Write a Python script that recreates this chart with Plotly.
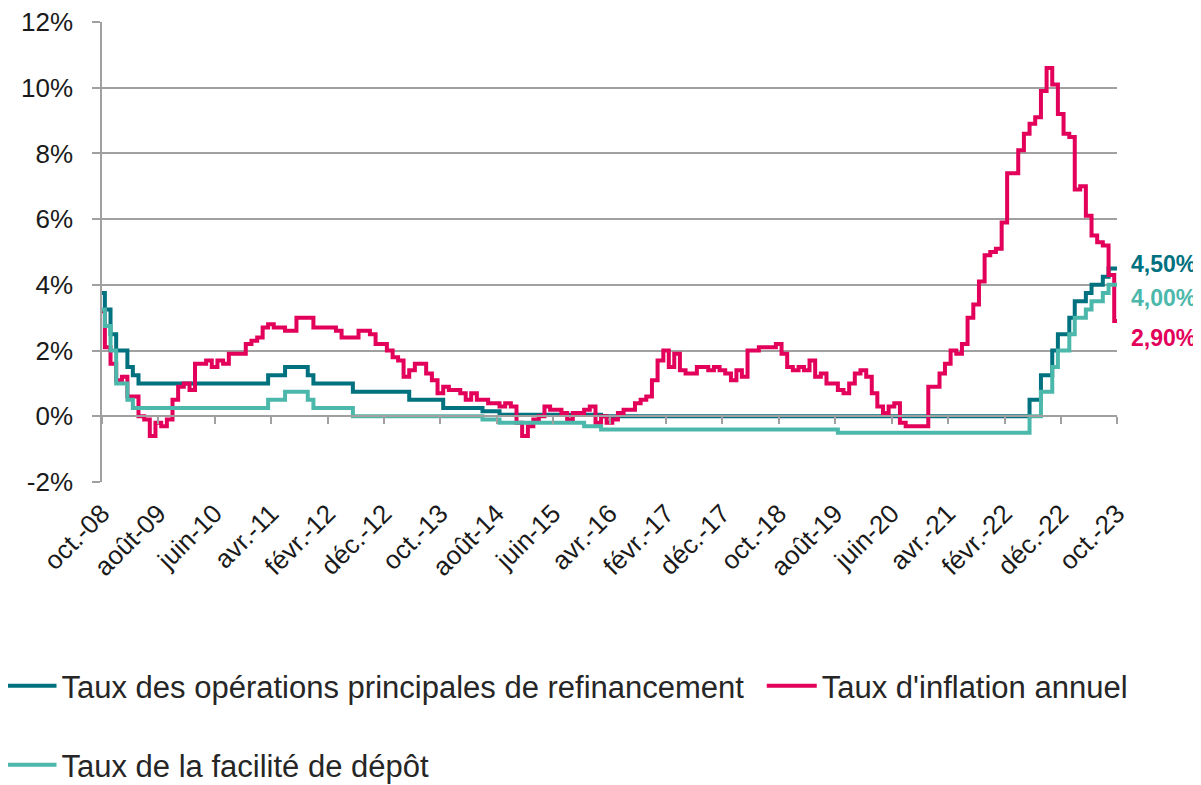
import pandas as pd
import plotly.graph_objects as go

# monthly, oct. 2008 -> oct. 2023 (end-of-month policy rates, annual HICP inflation)
months = pd.date_range("2008-10-01", "2023-10-01", freq="MS")

taux_refi = (
    [3.75, 3.25, 2.50]
    + [2.00, 2.00, 1.50, 1.25, 1.00, 1.00, 1.00, 1.00, 1.00, 1.00, 1.00, 1.00]
    + [1.00, 1.00, 1.00, 1.00, 1.00, 1.00, 1.00, 1.00, 1.00, 1.00, 1.00, 1.00]
    + [1.00, 1.00, 1.00, 1.25, 1.25, 1.25, 1.50, 1.50, 1.50, 1.50, 1.25, 1.00]
    + [1.00, 1.00, 1.00, 1.00, 1.00, 1.00, 0.75, 0.75, 0.75, 0.75, 0.75, 0.75]
    + [0.75, 0.75, 0.75, 0.75, 0.50, 0.50, 0.50, 0.50, 0.50, 0.50, 0.25, 0.25]
    + [0.25, 0.25, 0.25, 0.25, 0.25, 0.15, 0.15, 0.15, 0.05, 0.05, 0.05, 0.05]
    + [0.05, 0.05, 0.05, 0.05, 0.05, 0.05, 0.05, 0.05, 0.05, 0.05, 0.05, 0.05]
    + [0.05, 0.05, 0.00, 0.00, 0.00, 0.00, 0.00, 0.00, 0.00, 0.00, 0.00, 0.00]
    + [0.00, 0.00, 0.00, 0.00, 0.00, 0.00, 0.00, 0.00, 0.00, 0.00, 0.00, 0.00]
    + [0.00, 0.00, 0.00, 0.00, 0.00, 0.00, 0.00, 0.00, 0.00, 0.00, 0.00, 0.00]
    + [0.00, 0.00, 0.00, 0.00, 0.00, 0.00, 0.00, 0.00, 0.00, 0.00, 0.00, 0.00]
    + [0.00, 0.00, 0.00, 0.00, 0.00, 0.00, 0.00, 0.00, 0.00, 0.00, 0.00, 0.00]
    + [0.00, 0.00, 0.00, 0.00, 0.00, 0.00, 0.00, 0.00, 0.00, 0.00, 0.00, 0.00]
    + [0.00, 0.00, 0.00, 0.00, 0.00, 0.00, 0.50, 0.50, 1.25, 1.25, 2.00, 2.50]
    + [2.50, 3.00, 3.50, 3.50, 3.75, 4.00, 4.00, 4.25, 4.50, 4.50]
)

taux_depot = (
    [3.25, 2.75, 2.00]
    + [1.00, 1.00, 0.50, 0.25, 0.25, 0.25, 0.25, 0.25, 0.25, 0.25, 0.25, 0.25]
    + [0.25, 0.25, 0.25, 0.25, 0.25, 0.25, 0.25, 0.25, 0.25, 0.25, 0.25, 0.25]
    + [0.25, 0.25, 0.25, 0.50, 0.50, 0.50, 0.75, 0.75, 0.75, 0.75, 0.50, 0.25]
    + [0.25, 0.25, 0.25, 0.25, 0.25, 0.25, 0.00, 0.00, 0.00, 0.00, 0.00, 0.00]
    + [0.00, 0.00, 0.00, 0.00, 0.00, 0.00, 0.00, 0.00, 0.00, 0.00, 0.00, 0.00]
    + [0.00, 0.00, 0.00, 0.00, 0.00, -0.10, -0.10, -0.10, -0.20, -0.20, -0.20, -0.20]
    + [-0.20, -0.20, -0.20, -0.20, -0.20, -0.20, -0.20, -0.20, -0.20, -0.20, -0.20, -0.30]
    + [-0.30, -0.30, -0.40, -0.40, -0.40, -0.40, -0.40, -0.40, -0.40, -0.40, -0.40, -0.40]
    + [-0.40, -0.40, -0.40, -0.40, -0.40, -0.40, -0.40, -0.40, -0.40, -0.40, -0.40, -0.40]
    + [-0.40, -0.40, -0.40, -0.40, -0.40, -0.40, -0.40, -0.40, -0.40, -0.40, -0.40, -0.40]
    + [-0.40, -0.40, -0.40, -0.40, -0.40, -0.40, -0.40, -0.40, -0.50, -0.50, -0.50, -0.50]
    + [-0.50, -0.50, -0.50, -0.50, -0.50, -0.50, -0.50, -0.50, -0.50, -0.50, -0.50, -0.50]
    + [-0.50, -0.50, -0.50, -0.50, -0.50, -0.50, -0.50, -0.50, -0.50, -0.50, -0.50, -0.50]
    + [-0.50, -0.50, -0.50, -0.50, -0.50, -0.50, 0.00, 0.00, 0.75, 0.75, 1.50, 2.00]
    + [2.00, 2.50, 3.00, 3.00, 3.25, 3.50, 3.50, 3.75, 4.00, 4.00]
)

inflation = (
    [3.2, 2.1, 1.6]
    + [1.1, 1.2, 0.6, 0.6, 0.0, -0.1, -0.6, -0.2, -0.3, -0.1, 0.5, 0.9]
    + [1.0, 0.8, 1.6, 1.6, 1.7, 1.5, 1.7, 1.6, 1.9, 1.9, 1.9, 2.2]
    + [2.3, 2.4, 2.7, 2.8, 2.7, 2.7, 2.6, 2.6, 3.0, 3.0, 3.0, 2.7]
    + [2.7, 2.7, 2.7, 2.6, 2.4, 2.4, 2.4, 2.6, 2.6, 2.5, 2.2, 2.2]
    + [2.0, 1.8, 1.7, 1.2, 1.4, 1.6, 1.6, 1.3, 1.1, 0.7, 0.9, 0.8]
    + [0.8, 0.7, 0.5, 0.7, 0.5, 0.5, 0.4, 0.4, 0.3, 0.4, 0.3, -0.2]
    + [-0.6, -0.3, -0.1, 0.0, 0.3, 0.2, 0.2, 0.1, -0.1, 0.1, 0.1, 0.2]
    + [0.3, -0.2, 0.0, -0.2, -0.1, 0.1, 0.2, 0.2, 0.4, 0.5, 0.6, 1.1]
    + [1.7, 2.0, 1.5, 1.9, 1.4, 1.3, 1.3, 1.5, 1.5, 1.4, 1.5, 1.4]
    + [1.3, 1.1, 1.4, 1.2, 2.0, 2.0, 2.1, 2.1, 2.1, 2.2, 1.9, 1.5]
    + [1.4, 1.5, 1.4, 1.7, 1.2, 1.3, 1.0, 1.0, 0.8, 0.7, 1.0, 1.3]
    + [1.4, 1.2, 0.7, 0.3, 0.1, 0.3, 0.4, -0.2, -0.3, -0.3, -0.3, -0.3]
    + [0.9, 0.9, 1.3, 1.6, 2.0, 1.9, 2.2, 3.0, 3.4, 4.1, 4.9, 5.0]
    + [5.1, 5.9, 7.4, 7.4, 8.1, 8.6, 8.9, 9.1, 9.9, 10.6, 10.1, 9.2]
    + [8.6, 8.5, 6.9, 7.0, 6.1, 5.5, 5.3, 5.2, 4.3, 2.9]
)

x_tick_text = ["oct.-08", "août-09", "juin-10", "avr.-11", "févr.-12", "déc.-12",
               "oct.-13", "août-14", "juin-15", "avr.-16", "févr.-17", "déc.-17",
               "oct.-18", "août-19", "juin-20", "avr.-21", "févr.-22", "déc.-22",
               "oct.-23"]
x_tick_vals = months[::10]
y_tick_vals = [-2, 0, 2, 4, 6, 8, 10, 12]
y_tick_text = ["-2%", "0%", "2%", "4%", "6%", "8%", "10%", "12%"]

C_REFI = "#00717F"
C_DEPOT = "#4BB8AB"
C_INFL = "#E2005A"
FONT = "Arial, Liberation Sans, sans-serif"

fig = go.Figure()
fig.add_trace(go.Scatter(
    x=months, y=taux_depot, mode="lines", name="Taux de la facilité de dépôt",
    line=dict(color=C_DEPOT, width=4, shape="hvh"), xaxis="x2", legend="legend3"
))
fig.add_trace(go.Scatter(
    x=months, y=taux_refi, mode="lines", name="Taux des opérations principales de refinancement",
    line=dict(color=C_REFI, width=4, shape="hvh"), legend="legend"
))
fig.add_trace(go.Scatter(
    x=months, y=inflation, mode="lines", name="Taux d'inflation annuel",
    line=dict(color=C_INFL, width=4, shape="hvh"), legend="legend2"
))

# end-of-series value labels
for vals, col, dy in [(taux_refi, C_REFI, 4), (taux_depot, C_DEPOT, -13), (inflation, C_INFL, -17)]:
    fig.add_annotation(
        x=months[-1], y=vals[-1], text=f"{vals[-1]:.2f}".replace(".", ",") + "%",
        showarrow=False, xanchor="left", yanchor="middle", xshift=12, yshift=dy,
        font=dict(family=FONT, size=23, color=col, weight="bold")
    )

legend_style = dict(orientation="h", xanchor="left", yanchor="middle",
                    font=dict(size=31, color="#262626"), itemwidth=50)

# page body has an 8px margin: the figure is sized so the plot lands where the reference has it
rng = [months[0], months[-1]]
fig.update_layout(
    width=1193, height=777,
    margin=dict(l=94, r=84, t=14, b=303, autoexpand=False),
    paper_bgcolor="white", plot_bgcolor="white", showlegend=True,
    font=dict(family=FONT, color="#1a1a1a"),
    xaxis=dict(
        range=rng, tickvals=x_tick_vals, ticktext=x_tick_text, tickangle=-45,
        ticks="", showgrid=False, showline=False, zeroline=False, automargin=False,
        tickfont=dict(size=26, color="#1a1a1a"), ticklabelstandoff=10
    ),
    xaxis2=dict(
        matches="x", overlaying="x", anchor="free", position=2 / 14,
        tickvals=x_tick_vals, showticklabels=False, ticks="outside", ticklen=7,
        tickcolor="#A0A0A0", tickwidth=1.5, showline=True, linecolor="#A0A0A0",
        linewidth=1.5, showgrid=False, zeroline=False, automargin=False
    ),
    yaxis=dict(
        range=[-2, 12], tickvals=y_tick_vals, ticktext=y_tick_text,
        showgrid=True, gridcolor="#A0A0A0", gridwidth=1.5, zeroline=False,
        showline=True, linecolor="#A0A0A0", linewidth=1.5, automargin=False,
        ticks="outside", ticklen=8, tickcolor="#A0A0A0", tickwidth=1.5,
        tickfont=dict(size=26, color="#1a1a1a"), ticklabelstandoff=14,
        ticklabeloverflow="allow"
    ),
    legend=dict(x=-0.099, y=-0.4435, **legend_style),
    legend2=dict(x=0.650, y=-0.4435, **legend_style),
    legend3=dict(x=-0.099, y=-0.6155, **legend_style),
)

fig.write_html("out.html")
